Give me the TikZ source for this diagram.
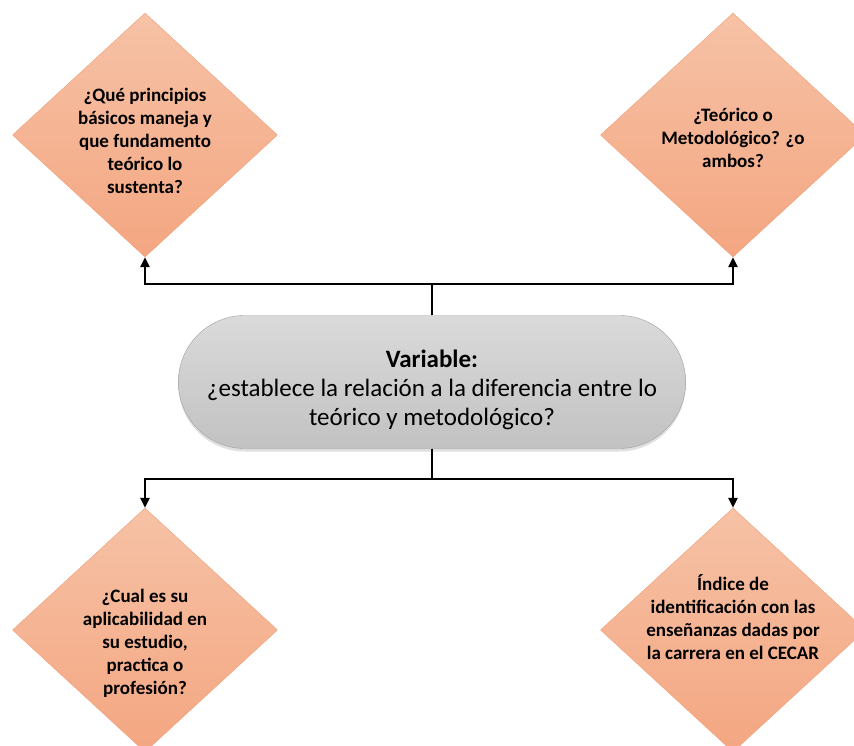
\documentclass[tikz,border=0pt]{standalone}
\usepackage{fontspec}
\setmainfont{Carlito}
\usetikzlibrary{arrows.meta,positioning,shapes.geometric,shapes.misc,shadows}

\definecolor{salmontop}{RGB}{246,194,166}
\definecolor{salmonbot}{RGB}{244,166,129}
\definecolor{salmonline}{RGB}{240,158,118}
\definecolor{greytop}{RGB}{218,218,218}
\definecolor{greybot}{RGB}{194,194,194}

\begin{document}
\begin{tikzpicture}[>={Triangle[width=9pt,length=10pt]},x=1pt,y=-1pt,
    question/.style={diamond,aspect=1.086,minimum width=265pt,minimum height=244pt,
        inner sep=0pt,draw=salmonline,top color=salmontop,bottom color=salmonbot},
    qtext/.style={align=center,inner sep=0pt,font=\bfseries\fontsize{19}{23}\selectfont},
    varbox/.style={rounded rectangle,minimum width=514pt,minimum height=133pt,
        draw=gray!75,top color=greytop,bottom color=greybot,align=center,
        font=\fontsize{25}{29}\selectfont,
        drop shadow={shadow xshift=0pt,shadow yshift=-3pt,opacity=0.25,fill=gray}},
    link/.style={->,line width=2.6pt}]

    \clip (0,0) rectangle (854,746);

    % Central variable
    \node [varbox] (variable) at (432,382)
        {\rule{0pt}{33pt}\textbf{Variable:}\\¿establece la relación a la diferencia entre lo\\teórico y metodológico?};

    % Upper questions
    \node [question] (principios) at (145,135) {};
    \node [qtext] (principiostext) at ([yshift=-6pt]principios.center)
        {¿Qué principios\\básicos maneja y\\que fundamento\\teórico lo\\sustenta?};
    \node [question] (teorico) at (733,135) {};
    \node [qtext] (teoricotext) at ([yshift=-3pt]teorico.center)
        {¿Teórico o\\Metodológico? ¿o\\ambos?};

    % Lower questions
    \node [question] (aplica) at (145,630) {};
    \node [qtext] (aplicatext) at ([yshift=-13pt]aplica.center)
        {¿Cual es su\\aplicabilidad en\\su estudio,\\practica o\\profesión?};
    \node [question] (indice) at (733,630) {};
    \node [qtext] (indicetext) at ([yshift=13pt]indice.center)
        {Índice de\\identificación con las\\enseñanzas dadas por\\la carrera en el CECAR};

    % Branch points
    \coordinate (uptee) at (432,284);
    \coordinate (downtee) at (432,479);

    % Connectors
    \draw [link] (variable.north) -- (uptee) -| (principios.south);
    \draw [link] (variable.north) -- (uptee) -| (teorico.south);
    \draw [link] (variable.south) -- (downtee) -| (aplica.north);
    \draw [link] (variable.south) -- (downtee) -| (indice.north);

\end{tikzpicture}
\end{document}
